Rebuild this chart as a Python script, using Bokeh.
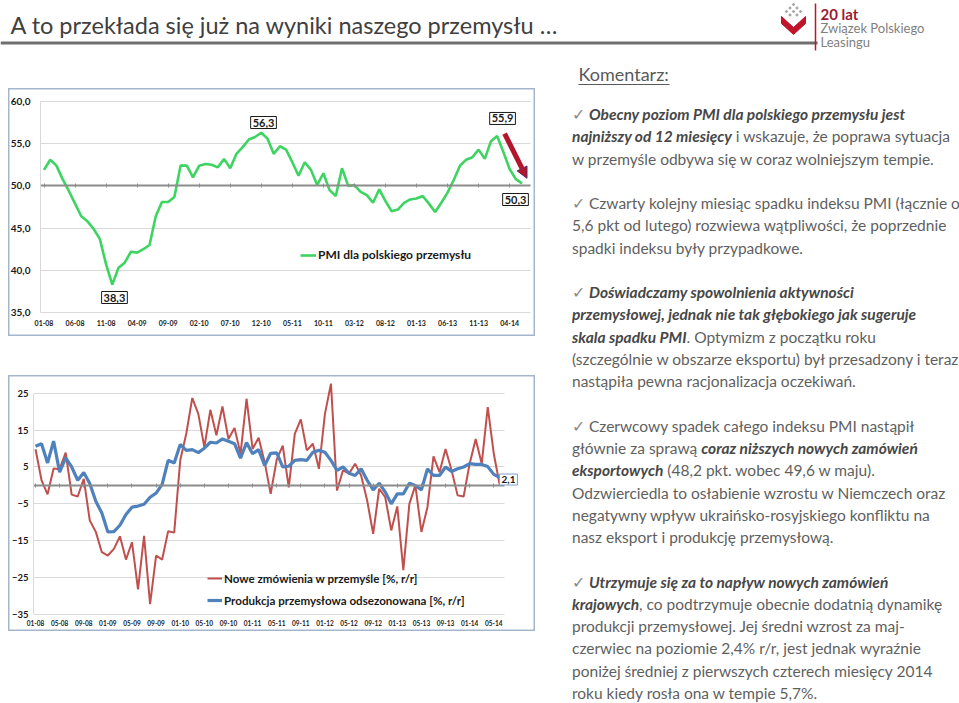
from bokeh.plotting import figure
from bokeh.models import (Range1d, LinearAxis, FixedTicker, Grid, Label, Legend,
                          LegendItem, Arrow, NormalHead, Div, Spacer)
from bokeh.layouts import column, row
from bokeh.core.properties import value
from bokeh.embed import file_html
from bokeh.resources import INLINE

# ---------------- data ----------------
pmi = [51.9, 53.1, 52.4, 50.8, 49.4, 47.9, 46.4, 45.8, 44.9, 43.7, 40.7, 38.3,
       40.3, 40.9, 42.2, 42.1, 42.5, 43.0, 46.4, 48.1, 48.1, 48.7, 52.4, 52.4,
       51.0, 52.4, 52.6, 52.5, 52.2, 53.2, 52.1, 53.8, 54.6, 55.5, 55.8, 56.3,
       55.6, 53.8, 54.7, 54.3, 52.8, 51.2, 52.8, 51.9, 50.1, 51.5, 49.5, 48.8,
       52.1, 50.0, 50.1, 49.3, 48.9, 48.0, 49.6, 48.2, 47.0, 47.2, 48.0, 48.4,
       48.5, 48.8, 47.9, 46.9, 48.0, 49.2, 50.7, 52.4, 53.1, 53.4, 54.3, 53.2,
       55.3, 55.9, 54.0, 52.0, 50.8, 50.3]

orders = [9.8, 1.4, -2.4, 4.6, 4.4, 8.9, -2.5, -3.0, 1.8, -9.5, -12.6, -18.1,
          -19.0, -17.2, -13.8, -20.1, -15.4, -28.2, -13.7, -32.2, -19.0, -20.1, -12.4, -12.8,
          6.8, 14.0, 23.7, 19.4, 10.4, 20.5, 13.6, 21.4, 12.6, 15.6, 8.6, 23.5,
          9.9, 12.9, 6.3, -2.3, 7.0, 10.8, -0.5, 14.0, 17.9, 9.5, 11.3, 4.5,
          19.4, 27.6, -1.4, 4.1, 3.2, 5.9, 2.7, -4.1, -13.1, -0.9, -3.2, -12.2,
          -5.7, -23.0, -5.0, 0.0, -12.6, -5.9, 7.9, 3.6, 9.9, 4.1, -2.7, -3.0,
          5.9, 12.6, 5.9, 21.2, 8.6, 0.0]

production = [10.6, 11.3, 6.1, 12.0, 3.6, 7.5, 5.0, 1.4, 3.5, 0.5, -4.3, -7.5,
              -12.6, -12.5, -10.8, -7.9, -5.9, -5.6, -5.1, -3.2, -2.1, 0.3, 6.8, 6.1,
              11.1, 9.5, 9.7, 8.9, 10.1, 11.7, 11.5, 12.6, 12.0, 11.3, 7.4, 11.6,
              8.6, 9.7, 5.4, 8.7, 8.8, 5.0, 5.2, 6.8, 7.0, 6.8, 9.0, 9.5,
              9.0, 6.8, 4.1, 5.0, 3.3, 2.7, 4.5, 1.4, -1.2, 0.6, -1.8, -5.0,
              -2.3, -2.3, 0.6, 0.0, -1.2, 4.5, 2.7, 2.7, 5.0, 3.8, 4.5, 5.0,
              5.9, 5.7, 5.7, 5.1, 3.0, 2.1]

pmi_tick_labels = ["01-08", "06-08", "11-08", "04-09", "09-09", "02-10", "07-10", "12-10",
                   "05-11", "10-11", "03-12", "08-12", "01-13", "06-13", "11-13", "04-14"]
ip_tick_labels = ["01-08", "05-08", "09-08", "01-09", "05-09", "09-09", "01-10", "05-10",
                  "09-10", "01-11", "05-11", "09-11", "01-12", "05-12", "09-12", "01-13",
                  "05-13", "09-13", "01-14", "05-14"]
pmi_y_ticks = [35, 40, 45, 50, 55, 60]
ip_y_ticks = [25, 15, 5, -5, -15, -25, -35]

title_text = "A to przekłada się już na wyniki naszego przemysłu …"
pmi_name = "PMI dla polskiego przemysłu"
orders_name = "Nowe zmówienia w przemyśle [%, r/r]"
prod_name = "Produkcja przemysłowa odsezonowana [%, r/r]"

months = list(range(len(pmi)))

FONT = "Lato"
GREEN = "#3dd461"
RED = "#c0504d"
BLUE = "#4f81bd"
BOX = "#a3b6cc"


def base_fig(w, h, xr, yr):
    p = figure(width=w, height=h, x_range=Range1d(*xr), y_range=Range1d(*yr),
               x_axis_type=None, y_axis_type=None, toolbar_location=None,
               output_backend="svg", min_border=0)
    p.min_border_left = p.min_border_right = p.min_border_top = p.min_border_bottom = 0
    p.background_fill_color = "white"
    p.border_fill_color = "white"
    p.outline_line_color = BOX
    p.outline_line_width = 2
    return p


def add_grid(p, ticks, cross):
    g = Grid(dimension=1, ticker=FixedTicker(ticks=ticks), grid_line_color="#d9d9d9",
             grid_line_width=1)
    if "cross_bounds" in Grid.properties():
        g.cross_bounds = cross
    p.add_layout(g)


def set_padding(lbl, pad):
    if "padding" in Label.properties():
        lbl.padding = pad


def label_axis(ax, size, standoff):
    ax.axis_line_color = None
    ax.major_tick_line_color = None
    ax.minor_tick_line_color = None
    ax.major_tick_in = 0
    ax.major_tick_out = 0
    ax.minor_tick_in = 0
    ax.minor_tick_out = 0
    ax.major_label_standoff = standoff
    ax.major_label_text_font = FONT
    ax.major_label_text_font_style = "bold"
    ax.major_label_text_font_size = size
    ax.major_label_text_color = "#1a1a1a"


def zero_axis(ax, bounds):
    ax.bounds = bounds
    ax.axis_line_color = "#8c8c8c"
    ax.axis_line_width = 2
    ax.major_tick_line_color = "#8c8c8c"
    ax.major_tick_in = 2
    ax.major_tick_out = 2
    ax.minor_tick_line_color = None
    ax.major_label_text_color = None


# ---------------- header ----------------
hdr = figure(width=959, height=88, x_range=Range1d(0, 959), y_range=Range1d(88, 0),
             x_axis_type=None, y_axis_type=None, toolbar_location=None,
             output_backend="svg", min_border=0)
hdr.min_border_left = hdr.min_border_right = hdr.min_border_top = hdr.min_border_bottom = 0
hdr.outline_line_color = None
hdr.grid.visible = False
hdr.text(x=[10], y=[24], text=[title_text], text_font=value(FONT), text_font_size="23.5px",
         text_color="#404040", text_baseline="middle", text_align="left")
hdr.segment(x0=[0], y0=[42.5], x1=[817], y1=[42.5], line_color="#6f6f6f", line_width=3)
# logo
hdr.patch(x=[781, 793, 805, 805, 793, 781], y=[16, 27, 16, 23, 34, 23],
          fill_color="#c0142b", line_color="#c0142b")
hdr.rect(x=[793, 789.5, 796.5, 786, 793, 800, 789.5, 796.5],
         y=[4, 7.5, 7.5, 11, 11, 11, 14.5, 14.5], width=2.6, height=2.6, angle=0.785,
         fill_color="#a6a6a6", line_color=None)
hdr.segment(x0=[815], y0=[3], x1=[815], y1=[50], line_color="#c0142b", line_width=1.5)
hdr.text(x=[820], y=[13], text=["20 lat"], text_font=value(FONT), text_font_size="15px",
         text_font_style="bold", text_color="#9b1b30", text_baseline="middle")
hdr.text(x=[820], y=[27], text=["Związek Polskiego"], text_font=value(FONT),
         text_font_size="13px", text_color="#7f7f7f", text_baseline="middle")
hdr.text(x=[820], y=[41], text=["Leasingu"], text_font=value(FONT),
         text_font_size="13px", text_color="#7f7f7f", text_baseline="middle")
hdr.text(x=[578], y=[73], text=["Komentarz:"], text_font=value(FONT), text_font_size="18px",
         text_color="#595959", text_baseline="middle")
hdr.segment(x0=[578], y0=[84], x1=[669], y1=[84], line_color="#595959", line_width=1)

# ---------------- PMI chart ----------------
p1 = base_fig(527, 248, (-5.72, 79.17), (32.16, 61.54))
add_grid(p1, pmi_y_ticks, (-0.57, 78.4))

ya = LinearAxis(fixed_location=-0.57, ticker=FixedTicker(ticks=pmi_y_ticks),
                major_label_overrides={t: f"{t},0" for t in pmi_y_ticks})
label_axis(ya, "10px", 10)
ya.bounds = (35, 60)
ya.axis_line_color = "#d9d9d9"
p1.add_layout(ya, "left")

pmi_ticks = list(range(0, len(pmi), 5))
xa = LinearAxis(fixed_location=35, ticker=FixedTicker(ticks=pmi_ticks),
                major_label_overrides=dict(zip(pmi_ticks, pmi_tick_labels)))
label_axis(xa, "7px", 7)
p1.add_layout(xa, "below")

x50 = LinearAxis(fixed_location=50, ticker=FixedTicker(ticks=pmi_ticks))
zero_axis(x50, (-0.57, 78.4))
p1.add_layout(x50, "below")

r_pmi = p1.line(months, pmi, line_color=GREEN, line_width=2.6)

for txt, lx, ly in [("56,3", 35.36, 57.51), ("38,3", 11.35, 36.78),
                    ("55,9", 73.86, 57.99), ("50,3", 75.95, 48.39)]:
    lb = Label(x=lx, y=ly, text=txt, text_align="center", text_baseline="middle",
               text_font=FONT, text_font_style="bold", text_font_size="11px",
               text_color="#1a1a1a", background_fill_color="white",
               border_line_color="#1a1a1a", border_line_width=1)
    set_padding(lb, 2)
    p1.add_layout(lb)

p1.add_layout(Arrow(end=NormalHead(size=11, fill_color="#b3162b", line_color="#5a2a6a",
                                   line_width=1),
                    x_start=74.2, y_start=56.2, x_end=77.8, y_end=50.9,
                    line_width=5, line_color="#b3162b"))

leg1 = Legend(items=[LegendItem(label=pmi_name, renderers=[r_pmi])], location=(292, 74))
leg1.border_line_color = None
leg1.background_fill_alpha = 0
leg1.padding = 0
leg1.margin = 0
leg1.glyph_width = 16
leg1.glyph_height = 14
leg1.label_height = 14
leg1.label_standoff = 2
leg1.label_text_font = FONT
leg1.label_text_font_style = "bold"
leg1.label_text_font_size = "12px"
leg1.label_text_color = "#1a1a1a"
p1.add_layout(leg1)

# ---------------- IP / orders chart ----------------
p2 = base_fig(527, 256, (-4.48, 82.92), (-39.6, 29.8))
add_grid(p2, ip_y_ticks, (-0.33, 77.8))

ya2 = LinearAxis(fixed_location=-0.33, ticker=FixedTicker(ticks=ip_y_ticks))
label_axis(ya2, "9.5px", 5)
ya2.bounds = (-35, 25)
ya2.axis_line_color = "#d9d9d9"
p2.add_layout(ya2, "left")

ip_ticks = list(range(0, len(orders), 4))
xa2 = LinearAxis(fixed_location=-35, ticker=FixedTicker(ticks=ip_ticks),
                 major_label_overrides=dict(zip(ip_ticks, ip_tick_labels)))
label_axis(xa2, "6.5px", 5)
p2.add_layout(xa2, "below")

x0 = LinearAxis(fixed_location=0, ticker=FixedTicker(ticks=ip_ticks))
zero_axis(x0, (-0.33, 77.8))
p2.add_layout(x0, "below")

r_ord = p2.line(months, orders, line_color=RED, line_width=2)
r_prod = p2.line(months, production, line_color=BLUE, line_width=3.2)

lb2 = Label(x=78.44, y=1.6, text="2,1", text_align="center", text_baseline="middle",
            text_font=FONT, text_font_style="bold", text_font_size="10px",
            text_color="#1a1a1a", background_fill_color="white",
            border_line_color="#7f9fcf", border_line_width=1)
set_padding(lb2, 2)
p2.add_layout(lb2)

leg2 = Legend(items=[LegendItem(label=orders_name, renderers=[r_ord]),
                     LegendItem(label=prod_name, renderers=[r_prod])],
              location=(199, 24))
leg2.border_line_color = None
leg2.background_fill_alpha = 0
leg2.padding = 0
leg2.margin = 0
leg2.spacing = 8
leg2.glyph_width = 15
leg2.glyph_height = 14
leg2.label_height = 14
leg2.label_standoff = 2
leg2.label_text_font = FONT
leg2.label_text_font_style = "bold"
leg2.label_text_font_size = "11.6px"
leg2.label_text_color = "#1a1a1a"
p2.add_layout(leg2)

# ---------------- commentary ----------------
B = '<span style="font-weight:bold;font-style:italic;color:#474747">'
E = '</span>'
CK = '<span style="color:#8a8a8a">&#10003;</span> '
lines = [
    CK + B + "Obecny poziom PMI dla polskiego przemysłu jest" + E,
    B + "najniższy od 12 miesięcy" + E + " i wskazuje, że poprawa sytuacja",
    "w przemyśle odbywa się w coraz wolniejszym tempie.",
    "&nbsp;",
    CK + "Czwarty kolejny miesiąc spadku indeksu PMI (łącznie o",
    "5,6 pkt od lutego) rozwiewa wątpliwości, że poprzednie",
    "spadki indeksu były przypadkowe.",
    "&nbsp;",
    CK + B + "Doświadczamy spowolnienia aktywności" + E,
    B + "przemysłowej, jednak nie tak głębokiego jak sugeruje" + E,
    B + "skala spadku PMI" + E + ". Optymizm z początku roku",
    "(szczególnie w obszarze eksportu) był przesadzony i teraz",
    "nastąpiła pewna racjonalizacja oczekiwań.",
    "&nbsp;",
    CK + "Czerwcowy spadek całego indeksu PMI nastąpił",
    "głównie za sprawą " + B + "coraz niższych nowych zamówień" + E,
    B + "eksportowych" + E + " (48,2 pkt. wobec 49,6 w maju).",
    "Odzwierciedla to osłabienie wzrostu w Niemczech oraz",
    "negatywny wpływ ukraińsko-rosyjskiego konfliktu na",
    "nasz eksport i produkcję przemysłową.",
    "&nbsp;",
    CK + B + "Utrzymuje się za to napływ nowych zamówień" + E,
    B + "krajowych" + E + ", co podtrzymuje obecnie dodatnią dynamikę",
    "produkcji przemysłowej. Jej średni wzrost za maj-",
    "czerwiec na poziomie 2,4% r/r, jest jednak wyraźnie",
    "poniżej średniej z pierwszych czterech miesięcy 2014",
    "roku kiedy rosła ona w tempie 5,7%.",
]
html = ('<div style="font-family:Lato,sans-serif;font-size:15.5px;line-height:22.27px;'
        'color:#5f5f5f;white-space:nowrap;margin:0;padding-top:10px;">'
        + "<br>".join(lines) + "</div>")
txt = Div(text=html, width=392, height=615, styles={"overflow": "hidden"})

left = column(row(Spacer(width=8, height=248), p1),
              Spacer(width=535, height=39),
              row(Spacer(width=8, height=256), p2),
              Spacer(width=535, height=72))
body = row(left, Spacer(width=32, height=615), txt)
page = column(hdr, body)

open("out.html", "w").write(file_html(page, INLINE))
